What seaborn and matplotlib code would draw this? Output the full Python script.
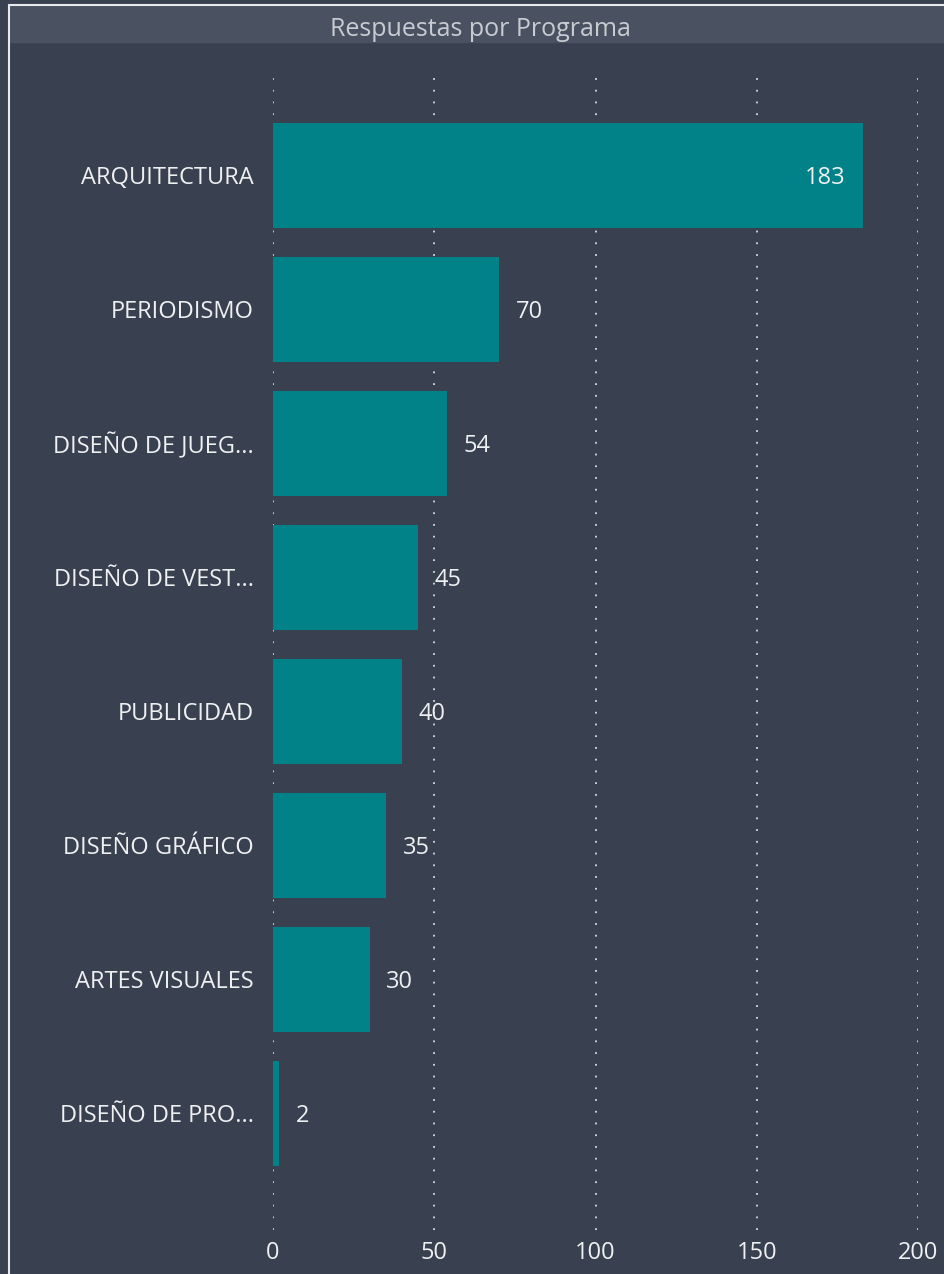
import matplotlib
matplotlib.use("Agg")
import matplotlib.pyplot as plt
import seaborn as sns
import pandas as pd
from matplotlib.patches import Rectangle
from matplotlib.lines import Line2D

# data
programas = ["ARQUITECTURA", "PERIODISMO", "DISEÑO DE JUEG...", "DISEÑO DE VEST...",
             "PUBLICIDAD", "DISEÑO GRÁFICO", "ARTES VISUALES", "DISEÑO DE PRO..."]
respuestas = [183, 70, 54, 45, 40, 35, 30, 2]
x_ticks = [0, 50, 100, 150, 200]

BG = "#394050"
TITLE_BG = "#4a5161"
BAR = "#008288"
TXT = "#eef0f2"
FS = 17

sns.set_theme(style="dark")
plt.rcParams["font.family"] = ["Open Sans", "DejaVu Sans"]

df = pd.DataFrame({"programa": programas, "respuestas": respuestas})

fig = plt.figure(figsize=(9.44, 12.74), dpi=100, facecolor=BG)

# title bar
fig.patches.append(Rectangle((10 / 944, 1 - 42 / 1274), 1, 37 / 1274,
                             transform=fig.transFigure, color=TITLE_BG, zorder=0))
fig.text(480 / 944, 1 - 26 / 1274, "Respuestas por Programa", ha="center", va="center_baseline",
         color="#c8ccd2", fontsize=18)
# frame
fig.lines.append(Line2D([9 / 944, 9 / 944], [0, 1 - 5 / 1274], transform=fig.transFigure,
                        color="#e8eaee", lw=1.5))
fig.lines.append(Line2D([9 / 944, 1], [1 - 5 / 1274, 1 - 5 / 1274], transform=fig.transFigure,
                        color="#e8eaee", lw=1.5))

ax = fig.add_axes([273 / 944, 44 / 1274, (918 - 273) / 944, (1230 - 72) / 1274])
ax.set_facecolor(BG)

sns.barplot(data=df, y="programa", x="respuestas", orient="h", color=BAR,
            saturation=1, width=0.78, linewidth=0, ax=ax, zorder=2)

ax.set_xlim(0, 200)
ax.set_ylim(7 + 116.5 / 134, -103.5 / 134)
ax.set_xticks(x_ticks)
ax.set_xlabel("")
ax.set_ylabel("")
for s in ax.spines.values():
    s.set_visible(False)
ax.grid(axis="x", color="#d8dbe0", linestyle=(0, (1, 5.5)), linewidth=1.3, zorder=0)
ax.grid(axis="y", visible=False)
ax.tick_params(axis="both", length=0, colors=TXT, labelsize=FS)
ax.tick_params(axis="y", pad=14)
ax.tick_params(axis="x", pad=8)

for i, v in enumerate(respuestas):
    if v > 150:
        ax.annotate(str(v), (v, i), xytext=(-13, 0), textcoords="offset points",
                    ha="right", va="center_baseline", color=TXT, fontsize=FS)
    else:
        ax.annotate(str(v), (v, i), xytext=(12, 0), textcoords="offset points",
                    ha="left", va="center_baseline", color=TXT, fontsize=FS)

fig.savefig("out.png", dpi=100, facecolor=BG)
